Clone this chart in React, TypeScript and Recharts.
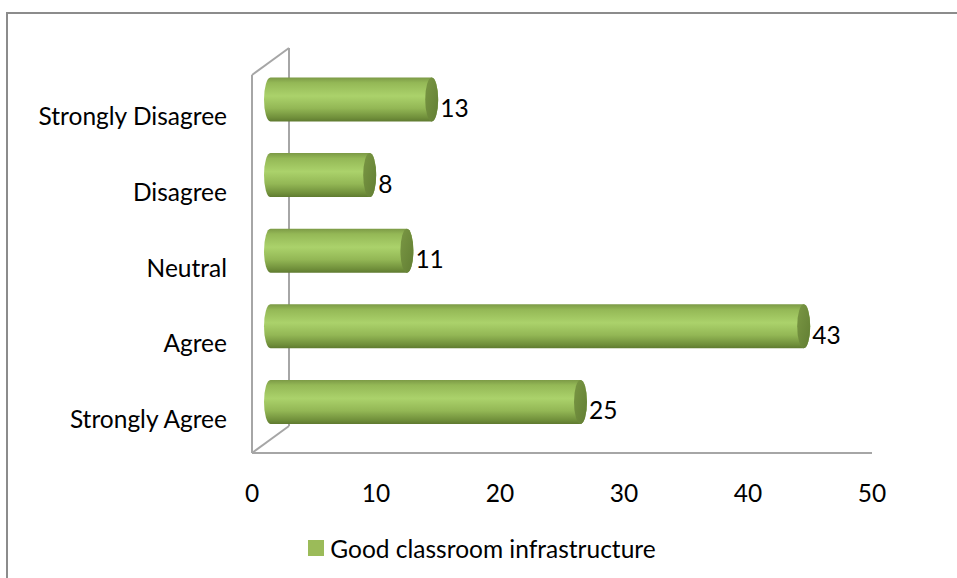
import { Bar, BarChart, Customized, LabelList, Legend, XAxis, YAxis } from "recharts";

const categories = ["Strongly Agree", "Agree", "Neutral", "Disagree", "Strongly Disagree"];
const responses = [25, 43, 11, 8, 13];
const xTicks = [0, 10, 20, 30, 40, 50];
const seriesName = "Good classroom infrastructure";

const data = categories.map((name, i) => ({ name, value: responses[i] }));

const W = 957;
const H = 578;
const MARGIN = { top: 75, right: 85, bottom: 15, left: 0 };
const Y_AXIS_W = 252;
const X_AXIS_H = 80;
const LEGEND_H = 30;
// 3D depth of the chart box, and where the cylinders sit inside it
const DEPTH = { dx: 37, dy: -27 };
const MID = { dx: DEPTH.dx / 2, dy: DEPTH.dy / 2 };
const CAP_RX = 6.5;
const FONT = "Lato, 'Open Sans', sans-serif";
const FONT_SIZE = 24.5;
const FRAME = "#a6a6a6";

const plotLeft = MARGIN.left + Y_AXIS_W;
const plotTop = MARGIN.top;
const plotBottom = H - MARGIN.bottom - LEGEND_H - X_AXIS_H;

function BoxFrame() {
  const bx = plotLeft + DEPTH.dx;
  return (
    <g stroke={FRAME} strokeWidth={2} fill="none">
      <line x1={bx} y1={plotTop + DEPTH.dy} x2={bx} y2={plotBottom + DEPTH.dy} />
      <line x1={plotLeft} y1={plotTop} x2={bx} y2={plotTop + DEPTH.dy} />
      <line x1={plotLeft} y1={plotBottom} x2={bx} y2={plotBottom + DEPTH.dy} />
    </g>
  );
}

function Cylinder(props: any) {
  const { x, y, width, height } = props;
  const x0 = x + MID.dx;
  const x1 = x + width + MID.dx;
  const top = y + MID.dy;
  const bot = top + height;
  const ry = height / 2;
  const d = `M${x0},${top} L${x1},${top} A${CAP_RX},${ry} 0 0 1 ${x1},${bot} L${x0},${bot} A${CAP_RX},${ry} 0 0 1 ${x0},${top} Z`;
  return (
    <g>
      <path d={d} fill="url(#cylBody)" />
      <ellipse cx={x1} cy={top + ry} rx={CAP_RX} ry={ry} fill="url(#cylCap)" />
    </g>
  );
}

function ValueLabel(props: any) {
  const { x, y, width, height, value } = props;
  return (
    <text
      x={x + width + MID.dx + CAP_RX + 2}
      y={y + height / 2 + MID.dy + 8}
      dominantBaseline="central"
      fontFamily={FONT}
      fontSize={FONT_SIZE}
      fill="#000"
    >
      {value}
    </text>
  );
}

function CategoryTick({ x, y, payload }: any) {
  return (
    <text x={x} y={y + 3} textAnchor="end" dominantBaseline="central" fontFamily={FONT} fontSize={FONT_SIZE} fill="#000">
      {payload.value}
    </text>
  );
}

function ValueTick({ x, y, payload }: any) {
  return (
    <text x={x} y={y} textAnchor="middle" dominantBaseline="central" fontFamily={FONT} fontSize={FONT_SIZE} fill="#000">
      {payload.value}
    </text>
  );
}

function LegendContent() {
  return (
    <div
      style={{
        height: LEGEND_H,
        display: "flex",
        alignItems: "center",
        justifyContent: "center",
        fontFamily: FONT,
        fontSize: FONT_SIZE,
        color: "#000",
      }}
    >
      <span style={{ width: 16, height: 16, background: "#9bbb59", marginRight: 6, display: "inline-block" }} />
      {seriesName}
    </div>
  );
}

export default function App() {
  return (
    <div style={{ position: "absolute", left: 0, top: 0, width: W, height: H, overflow: "hidden", background: "#fff" }}>
      <div
        style={{
          position: "absolute",
          left: 6,
          top: 12,
          width: W,
          height: H,
          borderLeft: "2px solid #8c8c8c",
          borderTop: "2px solid #8c8c8c",
        }}
      />
      <div style={{ position: "absolute", left: 0, top: 0 }}>
        <BarChart width={W} height={H} data={data} layout="vertical" margin={MARGIN} barSize={44}>
          <defs>
            <linearGradient id="cylBody" x1="0" y1="0" x2="0" y2="1">
              <stop offset="0%" stopColor="#7c9a46" />
              <stop offset="12%" stopColor="#94b856" />
              <stop offset="42%" stopColor="#abd26b" />
              <stop offset="70%" stopColor="#93b755" />
              <stop offset="92%" stopColor="#6f8e3a" />
              <stop offset="100%" stopColor="#5f7a30" />
            </linearGradient>
            <linearGradient id="cylCap" x1="0" y1="0" x2="1" y2="1">
              <stop offset="0%" stopColor="#7a9744" />
              <stop offset="100%" stopColor="#627e33" />
            </linearGradient>
          </defs>
          <Customized component={<BoxFrame />} />
          <XAxis
            type="number"
            domain={[0, 50]}
            ticks={xTicks}
            height={X_AXIS_H}
            axisLine={{ stroke: FRAME, strokeWidth: 2 }}
            tickLine={false}
            tickSize={0}
            tickMargin={39}
            tick={<ValueTick />}
          />
          <YAxis
            type="category"
            dataKey="name"
            reversed
            width={Y_AXIS_W}
            axisLine={{ stroke: FRAME, strokeWidth: 2 }}
            tickLine={false}
            tickSize={0}
            tickMargin={25}
            tick={<CategoryTick />}
          />
          <Legend verticalAlign="bottom" height={LEGEND_H} content={<LegendContent />} wrapperStyle={{ left: 0, width: 964 }} />
          <Bar dataKey="value" name={seriesName} shape={<Cylinder />} isAnimationActive={false}>
            <LabelList dataKey="value" content={<ValueLabel />} />
          </Bar>
        </BarChart>
      </div>
    </div>
  );
}
